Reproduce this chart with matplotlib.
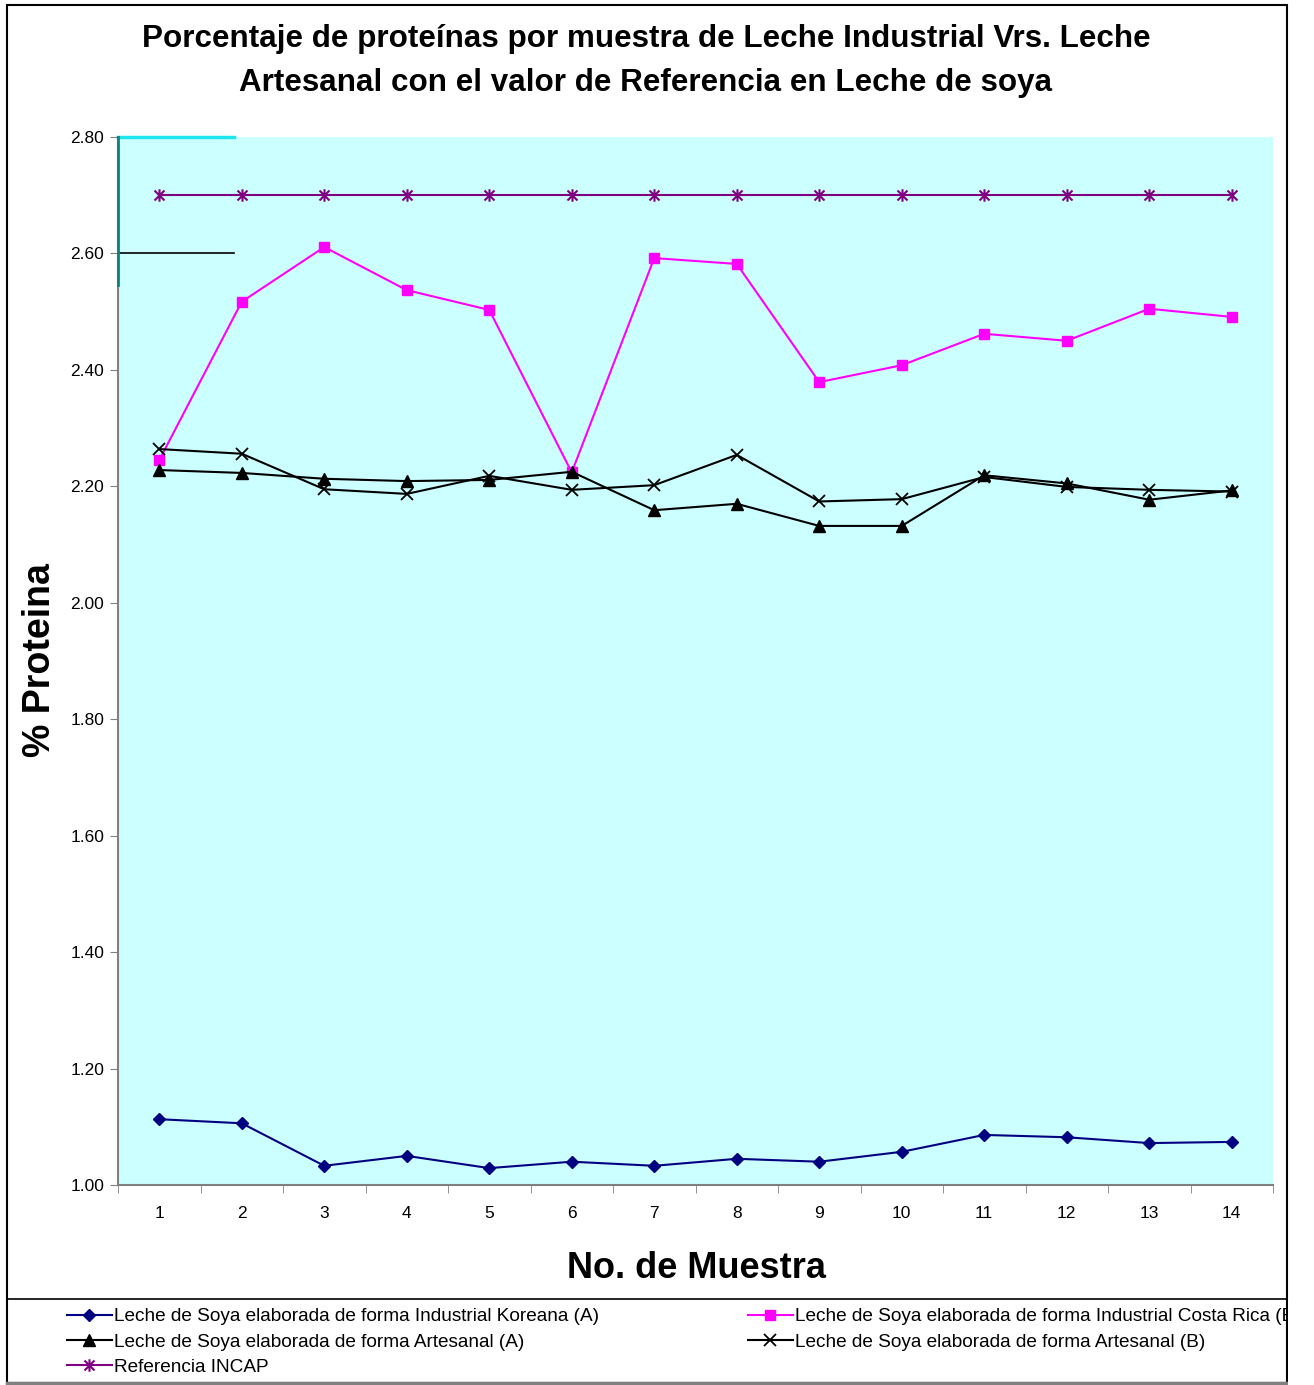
import numpy as np
import matplotlib
matplotlib.use("Agg")
import matplotlib.pyplot as plt
from matplotlib.path import Path
from matplotlib.patches import Rectangle
from matplotlib.lines import Line2D

plt.rcParams['font.family'] = ['Liberation Sans', 'DejaVu Sans']

muestras = np.arange(1, 15)

koreana_a = [1.113, 1.106, 1.033, 1.050, 1.029, 1.040, 1.033,
             1.045, 1.040, 1.057, 1.086, 1.082, 1.072, 1.074]
costa_rica_b = [2.245, 2.517, 2.611, 2.537, 2.503, 2.224, 2.592,
                2.582, 2.379, 2.408, 2.462, 2.450, 2.505, 2.491]
artesanal_a = [2.228, 2.223, 2.213, 2.209, 2.211, 2.225, 2.159,
               2.170, 2.132, 2.132, 2.219, 2.205, 2.177, 2.193]
artesanal_b = [2.264, 2.256, 2.195, 2.187, 2.218, 2.194, 2.202,
               2.254, 2.174, 2.178, 2.216, 2.199, 2.194, 2.191]
referencia_incap = [2.70] * 14

nombres = [
    "Leche de Soya elaborada de forma Industrial Koreana (A)",
    "Leche de Soya elaborada de forma Industrial Costa Rica (B)",
    "Leche de Soya elaborada de forma Artesanal (A)",
    "Leche de Soya elaborada de forma Artesanal (B)",
    "Referencia INCAP",
]

W, H = 1314, 1385
fig = plt.figure(figsize=(W / 100, H / 100), dpi=100)
fig.patch.set_facecolor('white')


def fx(px):
    return px / W


def fy(py):
    return 1 - py / H


ax = fig.add_axes([fx(118), fy(1185), fx(1273) - fx(118), fy(137) - fy(1185)])
ax.set_facecolor('#CCFFFF')

# asterisk marker: vertical stroke plus an x
star = Path([(0, -1), (0, 1), (-0.8, -0.8), (0.8, 0.8), (-0.8, 0.8), (0.8, -0.8)],
            [Path.MOVETO, Path.LINETO, Path.MOVETO, Path.LINETO, Path.MOVETO, Path.LINETO])

l1, = ax.plot(muestras, koreana_a, color='#000080', lw=1.5, marker='D', ms=6.5,
              label=nombres[0])
l2, = ax.plot(muestras, costa_rica_b, color='#FF00FF', lw=1.5, marker='s', ms=6.5,
              label=nombres[1])
l3, = ax.plot(muestras, artesanal_a, color='black', lw=1.5, marker='^', ms=8.5,
              label=nombres[2])
l4, = ax.plot(muestras, artesanal_b, color='black', lw=1.5, marker='x', ms=8, mew=1.3,
              label=nombres[3])
l5, = ax.plot(muestras, referencia_incap, color='#800080', lw=1.5, marker=star, ms=9,
              mew=1.5, mfc='none', label=nombres[4])

ax.set_xlim(0.5, 14.5)
ax.set_ylim(1.0, 2.8)
ax.set_yticks(np.arange(1.0, 2.81, 0.2))
ax.set_yticklabels([f"{v:.2f}" for v in np.arange(1.0, 2.81, 0.2)], fontsize=12.5)
ax.set_xticks(muestras)
ax.set_xticklabels([str(m) for m in muestras], fontsize=12.5)
ax.set_xticks(np.arange(0.5, 14.6, 1.0), minor=True)
ax.tick_params(axis='x', which='major', length=0, pad=15)
ax.tick_params(axis='x', which='minor', length=6, color='#808080', direction='out')
ax.tick_params(axis='y', length=6, color='#808080', direction='out', pad=4)

for side in ('top', 'right'):
    ax.spines[side].set_visible(False)
for side in ('left', 'bottom'):
    ax.spines[side].set_color('#808080')
    ax.spines[side].set_linewidth(1.5)

# leftover gridline pieces near the top of the value axis
ax.axhline(2.8, xmin=0, xmax=0.1, color='#1EE6EE', lw=2.5, clip_on=False, zorder=1)
ax.axhline(2.6, xmin=0, xmax=0.1, color='black', lw=1.2, zorder=1)
ax.axvline(0.5, ymin=(2.546 - 1.0) / 1.8, ymax=1, color='#108080', lw=2,
           clip_on=False, zorder=3)

fig.text(fx(646), fy(39), "Porcentaje de proteínas por muestra de Leche Industrial Vrs. Leche",
         ha='center', va='center', fontsize=22.6, fontweight='bold')
fig.text(fx(646), fy(83), "Artesanal con el valor de Referencia en Leche de soya",
         ha='center', va='center', fontsize=22.6, fontweight='bold')
fig.text(fx(40), fy(660), "% Proteina", rotation=90, ha='center', va='center',
         fontsize=27, fontweight='bold')
fig.text(fx(696), fy(1268), "No. de Muestra", ha='center', va='center',
         fontsize=26, fontweight='bold')

# outer chart frame and legend separator
fig.add_artist(Rectangle((fx(7), fy(1383)), fx(1287) - fx(7), fy(5) - fy(1383),
                         transform=fig.transFigure, fill=False, ec='black', lw=1.5))
fig.add_artist(Line2D([fx(7), fx(1287)], [fy(1299), fy(1299)],
                      transform=fig.transFigure, color='black', lw=1.2))
fig.add_artist(Line2D([fx(7), fx(1287)], [fy(1383), fy(1383)],
                      transform=fig.transFigure, color='#808080', lw=2.5))

leg = fig.legend([l1, l3, l5, l2, l4], [nombres[0], nombres[2], nombres[4], nombres[1], nombres[3]],
                 ncol=2, loc='upper left', bbox_to_anchor=(fx(67), fy(1308)),
                 frameon=False, fontsize=13.7, handlelength=2.35, handletextpad=0.1,
                 columnspacing=7.85, labelspacing=0.42, borderpad=0, borderaxespad=0)

# text beyond the right frame edge is cut off
fig.add_artist(Rectangle((fx(1288), 0), 1 - fx(1288), fy(1300),
                         transform=fig.transFigure, fc='white', ec='none', zorder=10))

fig.savefig("out.png", dpi=100)
